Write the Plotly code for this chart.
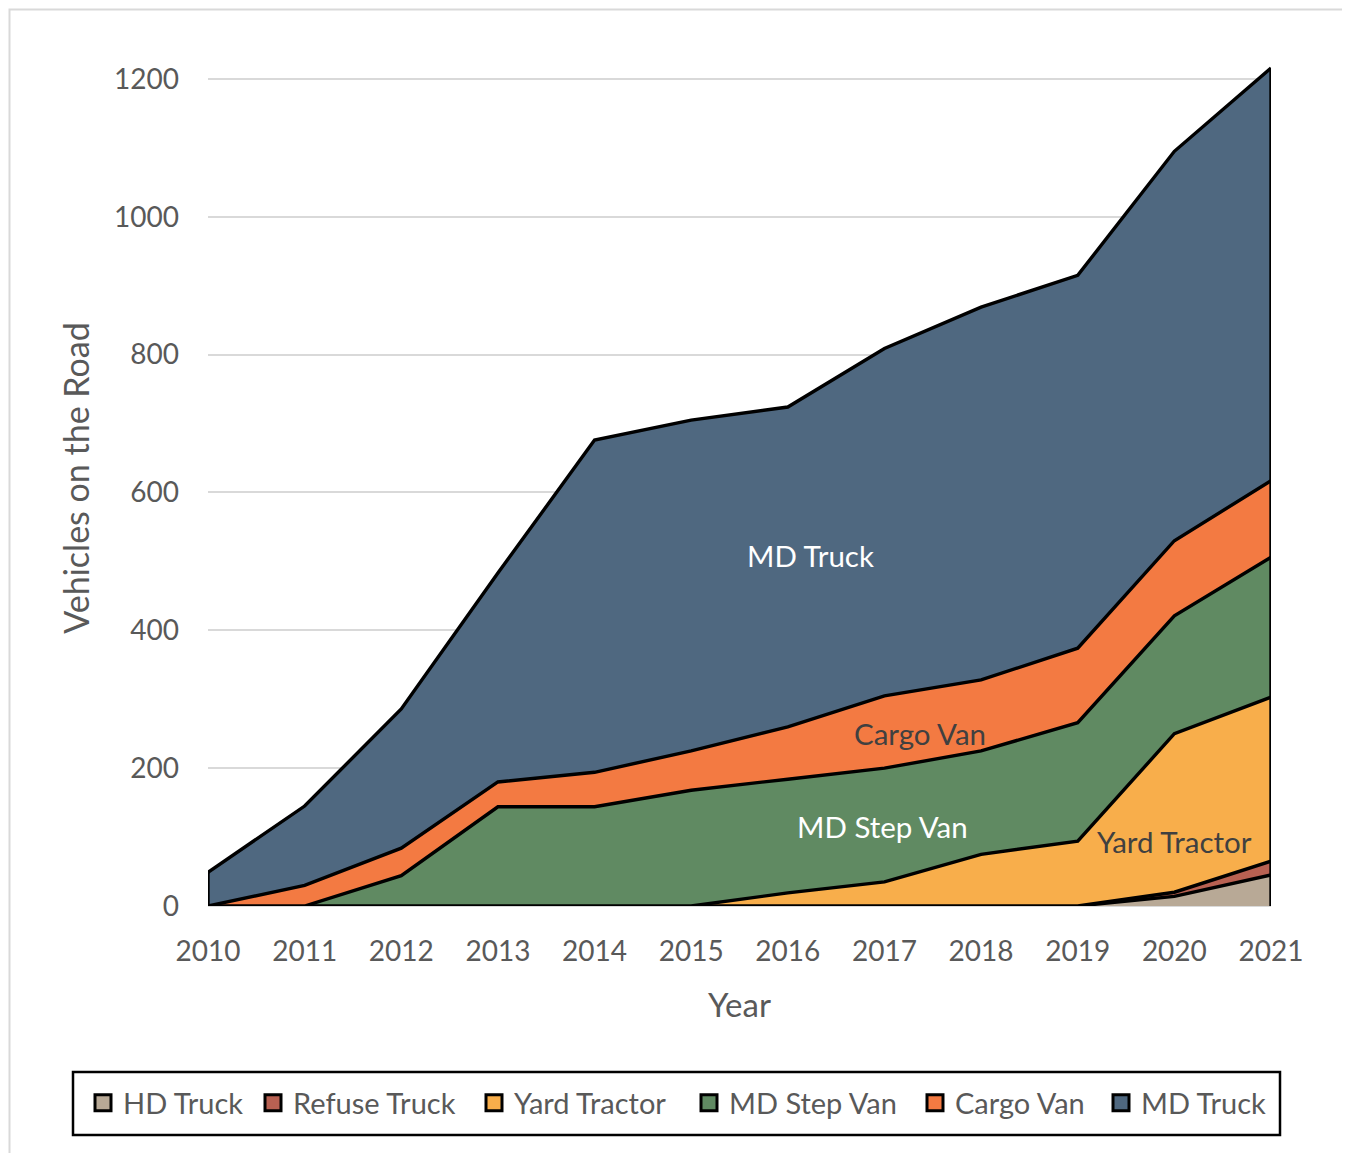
import plotly.graph_objects as go

years = [2010, 2011, 2012, 2013, 2014, 2015, 2016, 2017, 2018, 2019, 2020, 2021]
series_names = ["HD Truck", "Refuse Truck", "Yard Tractor", "MD Step Van", "Cargo Van", "MD Truck"]
hd_truck = [0, 0, 0, 0, 0, 0, 0, 0, 0, 0, 14, 45]
refuse_truck = [0, 0, 0, 0, 0, 0, 0, 0, 0, 0, 6, 20]
yard_tractor = [0, 0, 0, 0, 0, 0, 19, 35, 75, 94, 230, 238]
md_step_van = [0, 0, 44, 144, 144, 168, 165, 165, 150, 172, 171, 203]
cargo_van = [0, 30, 40, 36, 50, 57, 76, 105, 103, 108, 109, 111]
md_truck = [49, 115, 202, 303, 482, 480, 464, 504, 541, 541, 565, 599]
colors = ["#B8A996", "#B86152", "#F8AE4B", "#608A62", "#F37A42", "#4F6880"]

values = [hd_truck, refuse_truck, yard_tractor, md_step_van, cargo_van, md_truck]

FONT = "Lato"
GREY = "#595959"

fig = go.Figure()
for name, vals, col in zip(series_names, values, colors):
    fig.add_trace(go.Scatter(
        x=years, y=vals, name=name, mode="lines",
        stackgroup="one", fillcolor=col, showlegend=False,
        line=dict(color="black", width=3.4),
    ))

# legend entries (one legend per entry to reproduce the spacing of the original)
legend_text_x = [122, 292, 513, 728, 954, 1140]  # page px where each entry text starts
legend_ids = ["legend", "legend2", "legend3", "legend4", "legend5", "legend6"]
for name, col, lid in zip(series_names, colors, legend_ids):
    fig.add_trace(go.Scatter(
        x=[None], y=[None], name=name, mode="markers", legend=lid,
        marker=dict(symbol="square", size=21, color=col,
                    line=dict(color="black", width=3)),
    ))

totals = [sum(v[i] for v in values) for i in range(len(years))]

# vertical edges of the area at first and last year
for idx in (0, -1):
    fig.add_shape(type="line", xref="x", yref="y",
                  x0=years[idx], x1=years[idx], y0=0, y1=totals[idx],
                  line=dict(color="black", width=3.4), layer="above")

labels = [
    ("MD Truck", 2016.23, 508, "white"),
    ("Cargo Van", 2017.37, 251, "#404040"),
    ("MD Step Van", 2016.98, 115, "white"),
    ("Yard Tractor", 2020.0, 93, "#404040"),
]
for txt, xx, yy, c in labels:
    fig.add_annotation(x=xx, y=yy, text=txt, showarrow=False,
                       font=dict(family=FONT, size=29.5, color=c))

# chart outer border
fig.add_shape(type="rect", xref="paper", yref="paper",
              x0=(9.5 - 208) / 1063, x1=(1347 - 208) / 1063,
              y0=(906 - 1175) / 856, y1=(906 - 9.5) / 856,
              line=dict(color="#D9D9D9", width=2), layer="below")
# legend box
fig.add_shape(type="rect", xref="paper", yref="paper",
              x0=(73 - 208) / 1063, x1=(1280 - 208) / 1063,
              y0=(906 - 1135) / 856, y1=(906 - 1072) / 856,
              line=dict(color="black", width=2.5))

legend_layout = {}
for lid, tx in zip(legend_ids, legend_text_x):
    legend_layout[lid] = dict(
        orientation="h", xref="container", yref="container",
        x=(tx - 39 - 8) / 1350, y=1 - (1103 - 8) / 1153,
        xanchor="left", yanchor="middle",
        font=dict(family=FONT, size=29, color=GREY),
        bgcolor="rgba(0,0,0,0)", itemwidth=30,
    )

fig.update_layout(
    width=1350, height=1153,
    margin=dict(l=200, r=87, t=42, b=255),
    paper_bgcolor="white", plot_bgcolor="white",
    font=dict(family=FONT, size=28, color=GREY),
    showlegend=True,
    xaxis=dict(range=[2010, 2021], tickmode="array", tickvals=years,
               ticktext=[str(y) for y in years], showgrid=False,
               zeroline=False, showline=False, ticks="",
               ticklabelstandoff=26,
               title=dict(text="Year", standoff=27, font=dict(size=33, color=GREY))),
    yaxis=dict(range=[0, 1242], tickmode="array", tickvals=[0, 200, 400, 600, 800, 1000, 1200],
               showgrid=True, gridcolor="#D9D9D9", gridwidth=2,
               zeroline=True, zerolinecolor="#D9D9D9", zerolinewidth=2,
               showline=False, ticks="", ticklabelstandoff=28,
               title=dict(text="Vehicles on the Road", standoff=14, font=dict(size=34, color=GREY))),
    **legend_layout,
)

fig.write_html("out.html")
